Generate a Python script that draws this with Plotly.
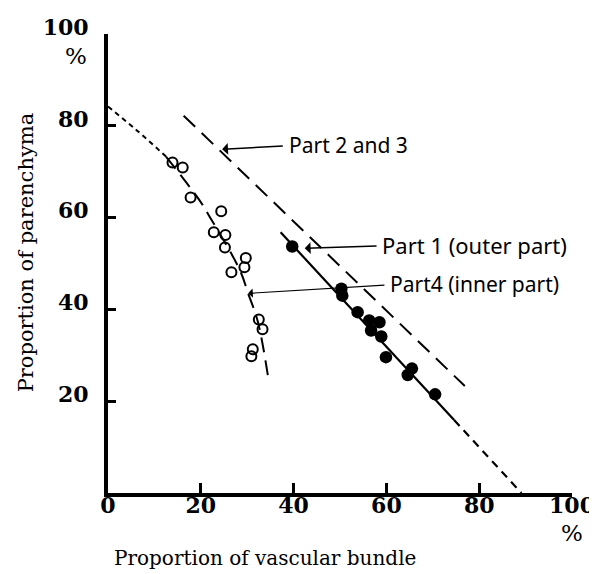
import plotly.graph_objects as go

# ---- data ----
open_x = [13.9, 16.1, 17.8, 24.4, 22.8, 25.3, 25.2, 29.7, 29.4, 26.6, 32.5, 33.3, 31.2, 30.9]
open_y = [72.0, 70.9, 64.4, 61.4, 56.8, 56.2, 53.5, 51.2, 49.2, 48.1, 37.8, 35.7, 31.3, 29.8]

filled_x = [39.7, 50.3, 50.5, 53.8, 56.3, 58.5, 56.7, 58.9, 59.9, 65.5, 64.6, 70.5]
filled_y = [53.7, 44.5, 43.0, 39.4, 37.6, 37.2, 35.4, 34.1, 29.6, 27.1, 25.7, 21.5]

# Part 4 curve (dotted start, dashed rest)
p4_dot_x = [0, 6.1, 12.5]
p4_dot_y = [84.2, 79.1, 73.3]
p4_dash_x = [12.5, 19.7, 21.9, 28.4, 30.2, 32.3, 34.5]
p4_dash_y = [73.3, 63.8, 60.2, 48.6, 43.5, 37.3, 25.3]

# Part 1 line and its extension
p1_x = [37.2, 74.6]
p1_y = [56.8, 15.9]
p1_ext_x = [74.6, 89.1]
p1_ext_y = [15.9, 0.0]

# Part 2 and 3 line
p23_x = [16.3, 76.9]
p23_y = [82.2, 23.3]

x_ticks = [0, 20, 40, 60, 80, 100]
y_ticks = [20, 40, 60, 80, 100]

fig = go.Figure()

fig.add_trace(go.Scatter(x=p4_dot_x, y=p4_dot_y, mode="lines", line_shape="spline",
                         line=dict(color="black", width=2, dash="5px,4px"), showlegend=False))
fig.add_trace(go.Scatter(x=p4_dash_x, y=p4_dash_y, mode="lines", line_shape="spline",
                         line=dict(color="black", width=2, dash="15px,8px"), showlegend=False))
fig.add_trace(go.Scatter(x=p23_x, y=p23_y, mode="lines",
                         line=dict(color="black", width=2, dash="16px,9px"), showlegend=False))
fig.add_trace(go.Scatter(x=p1_x, y=p1_y, mode="lines",
                         line=dict(color="black", width=2.2), showlegend=False))
fig.add_trace(go.Scatter(x=p1_ext_x, y=p1_ext_y, mode="lines",
                         line=dict(color="black", width=2.2, dash="8px,6px"), showlegend=False))
fig.add_trace(go.Scatter(x=open_x, y=open_y, mode="markers",
                         marker=dict(symbol="circle-open", size=10, color="black",
                                     line=dict(width=2, color="black")), showlegend=False))
fig.add_trace(go.Scatter(x=filled_x, y=filled_y, mode="markers",
                         marker=dict(symbol="circle", size=12.5, color="black"), showlegend=False))

serif = "DejaVu Serif"

annotations = [
    # arrows
    dict(x=24.6, y=74.9, ax=38.0, ay=75.6, xref="x", yref="y", axref="x", ayref="y",
         text="", showarrow=True, arrowhead=1, arrowsize=1.3, arrowwidth=1.5, arrowcolor="black"),
    dict(x=42.4, y=53.3, ax=58.2, ay=53.8, xref="x", yref="y", axref="x", ayref="y",
         text="", showarrow=True, arrowhead=1, arrowsize=1.3, arrowwidth=1.5, arrowcolor="black"),
    dict(x=30.2, y=43.5, ax=59.9, ay=45.3, xref="x", yref="y", axref="x", ayref="y",
         text="", showarrow=True, arrowhead=1, arrowsize=1.3, arrowwidth=1.2, arrowcolor="black"),
    # labels
    dict(x=38.5, y=75.8, xref="x", yref="y", text="Part 2 and 3", showarrow=False,
         xanchor="left", yanchor="middle", font=dict(family="Noto Sans", size=21, color="black")),
    dict(x=58.6, y=54.0, xref="x", yref="y", text="Part 1 (outer part)", showarrow=False,
         xanchor="left", yanchor="middle", font=dict(family="Noto Sans", size=22, color="black")),
    dict(x=60.3, y=45.5, xref="x", yref="y", text="Part4 (inner part)", showarrow=False,
         xanchor="left", yanchor="middle", font=dict(family="Noto Sans", size=21, color="black")),
    # percent signs
    dict(x=-0.068, y=0.953, xref="paper", yref="paper", text="%", showarrow=False,
         xanchor="center", yanchor="middle", font=dict(family=serif, size=23, color="black")),
    dict(x=1.0, y=-0.088, xref="paper", yref="paper", text="%", showarrow=False,
         xanchor="center", yanchor="middle", font=dict(family=serif, size=23, color="black")),
    # axis titles
    dict(x=0.338, y=-0.1416, xref="paper", yref="paper", text="Proportion of vascular bundle",
         showarrow=False, xanchor="center", yanchor="middle",
         font=dict(family=serif, size=20, color="black")),
    dict(x=-0.176, y=0.525, xref="paper", yref="paper", text="Proportion of parenchyma",
         textangle=-90, showarrow=False, xanchor="center", yanchor="middle",
         font=dict(family=serif, size=21, color="black")),
]

tickfont = dict(family=serif, size=22, color="black", weight="bold")

# the page body adds an 8 px margin, so the figure is drawn 8 px smaller
fig.update_layout(
    template="none",
    width=589, height=566,
    margin=dict(l=100, r=25, t=26, b=81, autoexpand=False),
    paper_bgcolor="white", plot_bgcolor="white",
    annotations=annotations,
    xaxis=dict(range=[0, 100], tickvals=x_ticks, ticktext=[str(v) for v in x_ticks],
               ticks="inside", ticklen=10, tickwidth=3, tickcolor="black",
               showline=True, linewidth=4, linecolor="black", showgrid=False, zeroline=False,
               tickfont=tickfont, ticklabelstandoff=-10, automargin=False),
    yaxis=dict(range=[0, 100], tickvals=y_ticks, ticktext=[str(v) for v in y_ticks],
               ticks="inside", ticklen=8, tickwidth=3, tickcolor="black",
               showline=True, linewidth=4, linecolor="black", showgrid=False, zeroline=False,
               tickfont=tickfont, ticklabelstandoff=11, ticklabelshift=-7, automargin=False),
)

fig.write_html("out.html")
